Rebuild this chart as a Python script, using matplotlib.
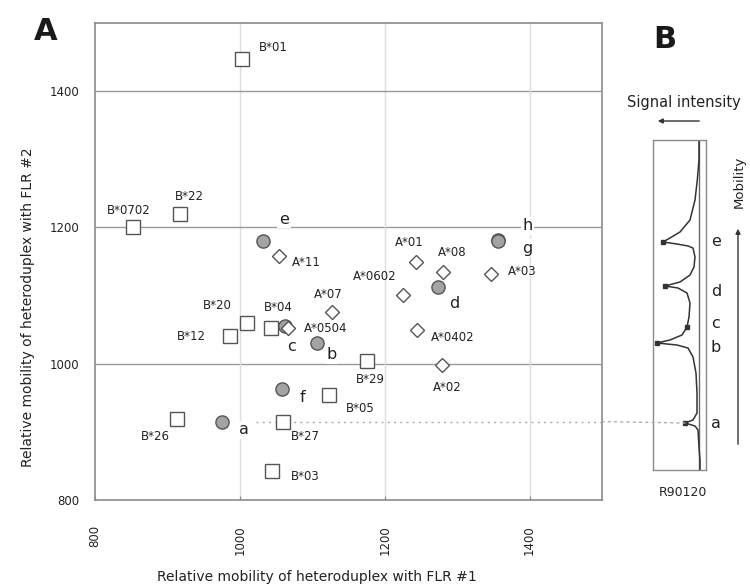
import matplotlib
matplotlib.use("Agg")
import matplotlib.pyplot as plt
from matplotlib.patches import ConnectionPatch, FancyArrowPatch

# ---------------- data ----------------
sq_names = ["B*01", "B*0702", "B*22", "B*20", "B*12", "B*04", "B*29", "B*05",
            "B*26", "B*27", "B*03"]
sq_x = [1003, 852, 917, 1010, 986, 1043, 1175, 1123, 913, 1059, 1044]
sq_y = [1447, 1200, 1220, 1060, 1041, 1053, 1004, 954, 919, 915, 843]

dm_names = ["A*11", "A*0504", "A*07", "A*01", "A*08", "A*0602", "A*03",
            "A*0402", "A*02"]
dm_x = [1054, 1066, 1127, 1243, 1281, 1225, 1347, 1245, 1279]
dm_y = [1158, 1053, 1076, 1150, 1135, 1101, 1132, 1050, 998]

ci_names = ["e", "c", "b", "d", "h", "g", "f", "a"]
ci_x = [1032, 1063, 1106, 1273, 1356, 1356, 1058, 975]
ci_y = [1180, 1055, 1031, 1112, 1182, 1180, 963, 915]

# label offsets (pixels, right / down)
sq_off = [(31, -12), (-4, -17), (10, -17), (-30, -17), (-38, 1), (7, -20),
          (4, 19), (31, 13), (-21, 18), (23, 15), (34, 6)]
dm_off = [(27, 6), (38, 1), (-4, -17), (-7, -19), (9, -19), (-28, -18),
          (31, -2), (35, 8), (5, 22)]
ci_off = [(21, -22), (6, 20), (15, 12), (17, 16), (30, -14), (30, 7),
          (21, 9), (22, 8)]

x_ticks = [800, 1000, 1200, 1400]
y_ticks = [800, 1000, 1200, 1400]

# densitometry trace of panel B (intensity, mobility)
trace_int = [7, 7, 8.7, 11, 16, 26, 36, 43, 29, 18, 13, 11, 12, 16, 26, 41, 28,
             19, 16, 17, 19, 24, 36, 49, 29, 18, 13, 10, 9, 9, 13, 21, 11, 8, 7,
             6, 6]
trace_mob = [330, 310, 290, 270, 250, 238, 232, 228, 226, 224, 222, 213, 203,
             195, 188, 184, 182, 177, 167, 153, 143, 135, 130, 127, 125, 122,
             113, 97, 77, 57, 50, 47, 44, 40, 23, 10, 0]
peak_names = ["e", "d", "c", "b", "a"]
peak_int = [43, 41, 19, 49, 21]
peak_mob = [228, 184, 143, 127, 47]
peak_label_mob = [228, 178, 147, 123, 47]
guide_x0 = 1022

# ---------------- figure ----------------
W, H = 750, 586
fig = plt.figure(figsize=(W / 100, H / 100), dpi=100)
plt.rcParams['font.family'] = ['DejaVu Sans']
txtc = "#222222"

def fx(px):
    return px / W

def fy(py):
    return 1 - py / H

ax = fig.add_axes([fx(95), fy(500), fx(602) - fx(95), fy(23) - fy(500)])
ax.set_xlim(800, 1500)
ax.set_ylim(800, 1500)
ax.set_xticks(x_ticks)
ax.set_yticks(y_ticks)
ax.set_xticklabels([str(t) for t in x_ticks], rotation=90, fontsize=8.5,
                   color=txtc, va="top")
ax.set_yticklabels([str(t) for t in y_ticks], fontsize=8.5, color=txtc)
ax.tick_params(axis="x", direction="in", length=3, pad=18, color="#888888")
ax.tick_params(axis="y", direction="in", length=0, pad=11, color="#888888")
for s in ax.spines.values():
    s.set_color("#8a8a8a")
    s.set_linewidth(1.2)
for t in [1000, 1200, 1400]:
    ax.axhline(t, color="#9a9a9a", lw=1.0, zorder=0)
    ax.axvline(t, color="#dddddd", lw=1.0, zorder=0)

# dotted guide at peak a
ax.plot([guide_x0, 1500], [ci_y[-1], ci_y[-1]], ls=(0, (1.5, 3)),
        color="#aaaaaa", lw=1.0, zorder=0)

ax.plot(sq_x, sq_y, ls="none", marker="s", ms=10, mfc="white",
        mec="#555555", mew=1.0, zorder=3)
ax.plot(ci_x, ci_y, ls="none", marker="o", ms=9.5, mfc="#a3a3a3",
        mec="#555555", mew=1.0, zorder=3)
ax.plot(dm_x, dm_y, ls="none", marker="D", ms=7, mfc="white",
        mec="#555555", mew=1.0, zorder=4)

for n, x, y, (dx, dy) in zip(sq_names, sq_x, sq_y, sq_off):
    ax.annotate(n, (x, y), xytext=(dx, -dy), textcoords="offset pixels",
                ha="center", va="center", fontsize=8.5, color=txtc)
for n, x, y, (dx, dy) in zip(dm_names, dm_x, dm_y, dm_off):
    ax.annotate(n, (x, y), xytext=(dx, -dy), textcoords="offset pixels",
                ha="center", va="center", fontsize=8.5, color=txtc)
for n, x, y, (dx, dy) in zip(ci_names, ci_x, ci_y, ci_off):
    ax.annotate(n, (x, y), xytext=(dx, -dy), textcoords="offset pixels",
                ha="center", va="center", fontsize=11.5, color=txtc,
                bbox=dict(boxstyle="square,pad=0.1", fc="white", ec="none"))

fig.text(fx(317), fy(577), "Relative mobility of heteroduplex with FLR #1",
         ha="center", va="center", fontsize=10, color=txtc)
fig.text(fx(28), fy(307), "Relative mobility of heteroduplex with FLR #2",
         ha="center", va="center", rotation=90, fontsize=10, color=txtc)
fig.text(fx(46), fy(32), "A", ha="center", va="center", fontsize=22,
         fontweight="bold", color="#1a1a1a")

# ---------------- panel B ----------------
axB = fig.add_axes([fx(653), fy(470), fx(706) - fx(653), fy(140) - fy(470)])
axB.set_xlim(53, 0)
axB.set_ylim(0, 330)
axB.set_xticks([])
axB.set_yticks([])
for s in axB.spines.values():
    s.set_color("#8a8a8a")
    s.set_linewidth(1.0)
axB.axvline(7, color="#666666", lw=1.0)
axB.plot(trace_int, trace_mob, color="#333333", lw=1.1)
axB.plot(peak_int, peak_mob, ls="none", marker="s", ms=2.5, color="#333333")
for n, m in zip(peak_names, peak_label_mob):
    axB.text(-10, m, n, ha="center", va="center", fontsize=11.5, color=txtc,
             clip_on=False)

con = ConnectionPatch(xyA=(1500, ci_y[-1]), coordsA=ax.transData,
                      xyB=(peak_int[-1], peak_mob[-1]), coordsB=axB.transData,
                      ls=(0, (1.5, 3)), color="#aaaaaa", lw=1.0)
fig.add_artist(con)

fig.text(fx(665), fy(40), "B", ha="center", va="center", fontsize=22,
         fontweight="bold", color="#1a1a1a")
fig.text(fx(684), fy(102), "Signal intensity", ha="center", va="center",
         fontsize=10.5, color=txtc)
fig.add_artist(FancyArrowPatch((fx(702), fy(121)), (fx(655), fy(121)),
                               transform=fig.transFigure, arrowstyle="-|>",
                               mutation_scale=7, color="#333333", lw=1.0))
fig.text(fx(739), fy(182), "Mobility", ha="center", va="center",
         rotation=90, fontsize=9.5, color=txtc)
fig.add_artist(FancyArrowPatch((fx(738), fy(447)), (fx(738), fy(226)),
                               transform=fig.transFigure, arrowstyle="-|>",
                               mutation_scale=7, color="#333333", lw=1.0))
fig.text(fx(683), fy(492), "R90120", ha="center", va="center",
         fontsize=9, color=txtc)

fig.savefig("out.png", dpi=100)
